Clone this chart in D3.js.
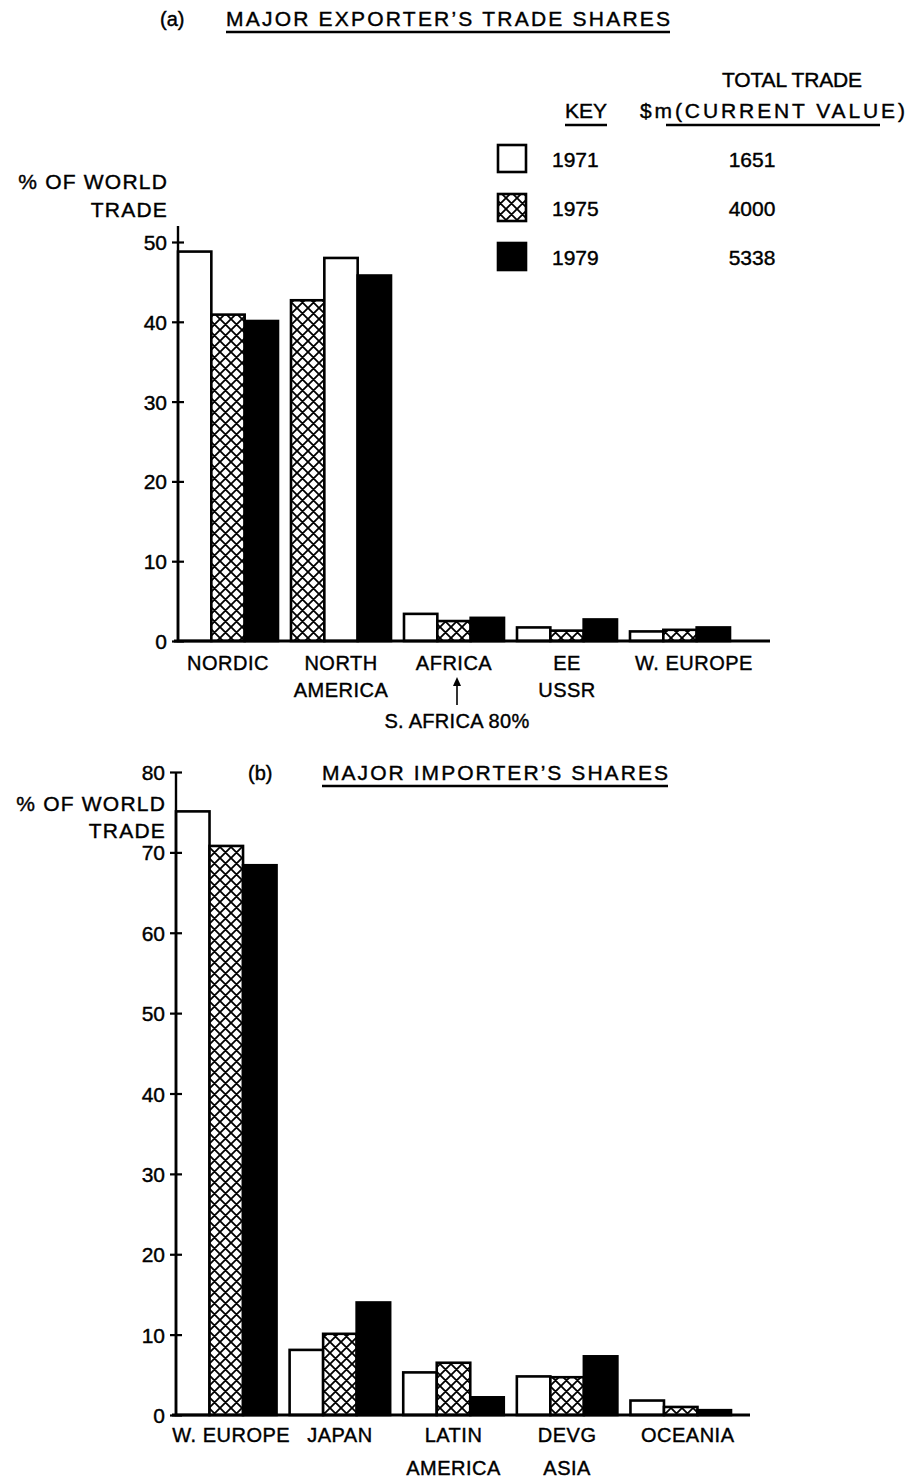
<!DOCTYPE html>
<html>
<head>
<meta charset="utf-8">
<script src="https://cdn.jsdelivr.net/npm/d3@7"></script>
<style>
  body { margin: 0; background: #fff; }
  svg text {
    font-family: "Liberation Sans", Arial, sans-serif;
    fill: #000;
    stroke: #000;
    stroke-width: 0.4;
  }
</style>
</head>
<body>
<div id="chart"></div>
<script>
// ---- data ----
const years = ['1971', '1975', '1979'];
const totalTrade = ['1651', '4000', '5338'];

// (a) major exporters
const exportCategories = [['NORDIC'], ['NORTH', 'AMERICA'], ['AFRICA'], ['EE', 'USSR'], ['W. EUROPE']];
const export1971 = [48.8, 48.0, 3.4, 1.7, 1.2];
const export1975 = [40.9, 42.7, 2.5, 1.3, 1.4];
const export1979 = [40.1, 45.8, 2.9, 2.7, 1.7];
// year order of the bars inside each group, as drawn (North America starts with 1975)
const exportBarOrder = [[0, 1, 2], [1, 0, 2], [0, 1, 2], [0, 1, 2], [0, 1, 2]];
const exportTicks = [0, 10, 20, 30, 40, 50];

// (b) major importers
const importCategories = [['W. EUROPE'], ['JAPAN'], ['LATIN', 'AMERICA'], ['DEVG', 'ASIA'], ['OCEANIA']];
const import1971 = [75.1, 8.1, 5.3, 4.8, 1.8];
const import1975 = [70.8, 10.1, 6.5, 4.7, 1.0];
const import1979 = [68.4, 14.0, 2.2, 7.3, 0.6];
const importBarOrder = [[0, 1, 2], [0, 1, 2], [0, 1, 2], [0, 1, 2], [0, 1, 2]];
const importTicks = [0, 10, 20, 30, 40, 50, 60, 70, 80];

const width = 910;
const height = 1482;

const svg = d3
  .select('#chart')
  .append('svg')
  .attr('width', width)
  .attr('height', height);

// cross-hatch for 1975
const defs = svg.append('defs');
const hatch = defs
  .append('pattern')
  .attr('id', 'hatch')
  .attr('patternUnits', 'userSpaceOnUse')
  .attr('width', 11)
  .attr('height', 11);
hatch.append('rect').attr('width', 11).attr('height', 11).attr('fill', '#fff');
hatch
  .append('path')
  .attr('d', 'M0,0L11,11M11,0L0,11M-1,10L1,12M10,-1L12,1M-1,1L1,-1M10,12L12,10')
  .attr('stroke', '#000')
  .attr('stroke-width', 1.8);

const yearFill = ['#fff', 'url(#hatch)', '#000'];

function drawPanel(cfg) {
  const g = svg.append('g');

  const x0 = d3
    .scaleBand()
    .domain(d3.range(cfg.categories.length))
    .range(cfg.xRange)
    .paddingInner(0.115)
    .paddingOuter(0);

  const x1 = d3.scaleBand().domain([0, 1, 2]).range([0, x0.bandwidth()]);

  const y = d3.scaleLinear().domain([0, d3.max(cfg.ticks)]).range(cfg.yRange);

  // bars
  const rows = [];
  cfg.categories.forEach((c, i) => {
    cfg.order[i].forEach((yr, slot) => {
      rows.push({ cat: i, year: yr, slot: slot, value: cfg.series[yr][i] });
    });
  });

  g.selectAll('rect.bar')
    .data(rows)
    .join('rect')
    .attr('class', 'bar')
    .attr('x', (d) => x0(d.cat) + x1(d.slot))
    .attr('y', (d) => y(d.value))
    .attr('width', x1.bandwidth())
    .attr('height', (d) => y(0) - y(d.value))
    .attr('fill', (d) => yearFill[d.year])
    .attr('stroke', '#000')
    .attr('stroke-width', 2.6);

  // y axis
  const axis = g
    .append('g')
    .attr('transform', `translate(${cfg.xRange[0]},0)`)
    .call(d3.axisLeft(y).tickValues(cfg.ticks).tickSize(6).tickPadding(5));
  axis.select('.domain').remove();
  axis.selectAll('.tick line').attr('x1', -6).attr('x2', 6).attr('stroke-width', 2.2);
  axis
    .selectAll('.tick text')
    .attr('font-size', 21)
    .attr('font-family', null)
    .attr('dy', '0.36em');

  g.append('line')
    .attr('x1', cfg.xRange[0])
    .attr('x2', cfg.xRange[0])
    .attr('y1', cfg.axisTop)
    .attr('y2', y(0))
    .attr('stroke', '#000')
    .attr('stroke-width', 2.4);

  g.append('line')
    .attr('x1', cfg.xRange[0] - 4)
    .attr('x2', cfg.baseEnd)
    .attr('y1', y(0))
    .attr('y2', y(0))
    .attr('stroke', '#000')
    .attr('stroke-width', 2.8);

  // category labels
  const labels = g
    .selectAll('text.cat')
    .data(cfg.categories)
    .join('text')
    .attr('class', 'cat')
    .attr('text-anchor', 'middle')
    .attr('font-size', 20)
    .attr('letter-spacing', 0.5);
  labels
    .selectAll('tspan')
    .data((d, i) => d.map((line, k) => ({ line, k, i })))
    .join('tspan')
    .attr('x', (d) => x0(d.i) + x0.bandwidth() / 2 + (cfg.labelShift[d.i] || 0))
    .attr('y', (d) => y(0) + cfg.labelLines[d.k])
    .text((d) => d.line);

  // y title
  g.selectAll('text.ytitle')
    .data(['% OF WORLD', 'TRADE'])
    .join('text')
    .attr('class', 'ytitle')
    .attr('text-anchor', 'end')
    .attr('x', cfg.yTitleX)
    .attr('y', (d, i) => cfg.yTitleY[i])
    .attr('font-size', 21)
    .attr('letter-spacing', 1.2)
    .text((d) => d);

  // panel title
  g.append('text')
    .attr('x', cfg.tagX)
    .attr('y', cfg.titleY)
    .attr('font-size', 20)
    .text(cfg.tag);
  g.append('text')
    .attr('x', cfg.titleX[0])
    .attr('y', cfg.titleY)
    .attr('font-size', 21)
    .attr('textLength', cfg.titleX[1] - cfg.titleX[0])
    .attr('lengthAdjust', 'spacing')
    .text(cfg.title);
  g.append('line')
    .attr('x1', cfg.titleX[0])
    .attr('x2', cfg.titleX[1])
    .attr('y1', cfg.titleY + 6)
    .attr('y2', cfg.titleY + 6)
    .attr('stroke', '#000')
    .attr('stroke-width', 2.4);

  return { g, x0, y };
}

// (a)
const pa = drawPanel({
  categories: exportCategories,
  series: [export1971, export1975, export1979],
  order: exportBarOrder,
  ticks: exportTicks,
  xRange: [178, 730],
  yRange: [641, 242],
  axisTop: 226,
  baseEnd: 770,
  labelLines: [29, 56],
  labelShift: { 4: 14 },
  yTitleX: 168,
  yTitleY: [189, 217],
  tag: '(a)',
  tagX: 160,
  title: 'MAJOR EXPORTER\u2019S TRADE SHARES',
  titleX: [226, 670],
  titleY: 26,
});

// arrow and note under AFRICA
const afx = pa.x0(2) + pa.x0.bandwidth() / 2 + 3;
pa.g.append('line')
  .attr('x1', afx)
  .attr('x2', afx)
  .attr('y1', 705)
  .attr('y2', 684)
  .attr('stroke', '#000')
  .attr('stroke-width', 1.6);
pa.g.append('path')
  .attr('d', `M${afx - 4},686L${afx},677L${afx + 4},686Z`)
  .attr('fill', '#000');
pa.g.append('text')
  .attr('x', afx)
  .attr('y', 728)
  .attr('text-anchor', 'middle')
  .attr('font-size', 20)
  .attr('letter-spacing', 0.3)
  .text('S. AFRICA 80%');

// key
const key = svg.append('g');
key.append('text')
  .attr('x', 792)
  .attr('y', 87)
  .attr('text-anchor', 'middle')
  .attr('font-size', 21)
  .attr('textLength', 140)
  .attr('lengthAdjust', 'spacing')
  .text('TOTAL TRADE');
key.append('text')
  .attr('x', 565)
  .attr('y', 118)
  .attr('font-size', 21)
  .attr('textLength', 42)
  .attr('lengthAdjust', 'spacing')
  .text('KEY');
key.append('line')
  .attr('x1', 565).attr('x2', 607)
  .attr('y1', 125).attr('y2', 125)
  .attr('stroke', '#000').attr('stroke-width', 2.4);
key.append('text')
  .attr('x', 640)
  .attr('y', 118)
  .attr('font-size', 21)
  .attr('textLength', 265)
  .attr('lengthAdjust', 'spacing')
  .text('$m(CURRENT VALUE)');
key.append('line')
  .attr('x1', 666).attr('x2', 880)
  .attr('y1', 125).attr('y2', 125)
  .attr('stroke', '#000').attr('stroke-width', 2.4);

const keyY = d3.scalePoint().domain(years).range([145, 243]);
key.selectAll('rect.key')
  .data(years)
  .join('rect')
  .attr('class', 'key')
  .attr('x', 498)
  .attr('y', (d) => keyY(d))
  .attr('width', 28)
  .attr('height', 27)
  .attr('fill', (d, i) => yearFill[i])
  .attr('stroke', '#000')
  .attr('stroke-width', 2.6);
key.selectAll('text.year')
  .data(years)
  .join('text')
  .attr('class', 'year')
  .attr('x', 552)
  .attr('y', (d) => keyY(d) + 22)
  .attr('font-size', 21)
  .text((d) => d);
key.selectAll('text.total')
  .data(totalTrade)
  .join('text')
  .attr('class', 'total')
  .attr('x', 752)
  .attr('y', (d, i) => keyY(years[i]) + 22)
  .attr('text-anchor', 'middle')
  .attr('font-size', 21)
  .text((d) => d);

// (b)
drawPanel({
  categories: importCategories,
  series: [import1971, import1975, import1979],
  order: importBarOrder,
  ticks: importTicks,
  xRange: [176, 731],
  yRange: [1415, 772],
  axisTop: 772,
  baseEnd: 750,
  labelLines: [27, 60],
  labelShift: { 0: 5, 4: 7 },
  yTitleX: 166,
  yTitleY: [811, 838],
  tag: '(b)',
  tagX: 248,
  title: 'MAJOR IMPORTER\u2019S SHARES',
  titleX: [322, 668],
  titleY: 780,
});
</script>
</body>
</html>
